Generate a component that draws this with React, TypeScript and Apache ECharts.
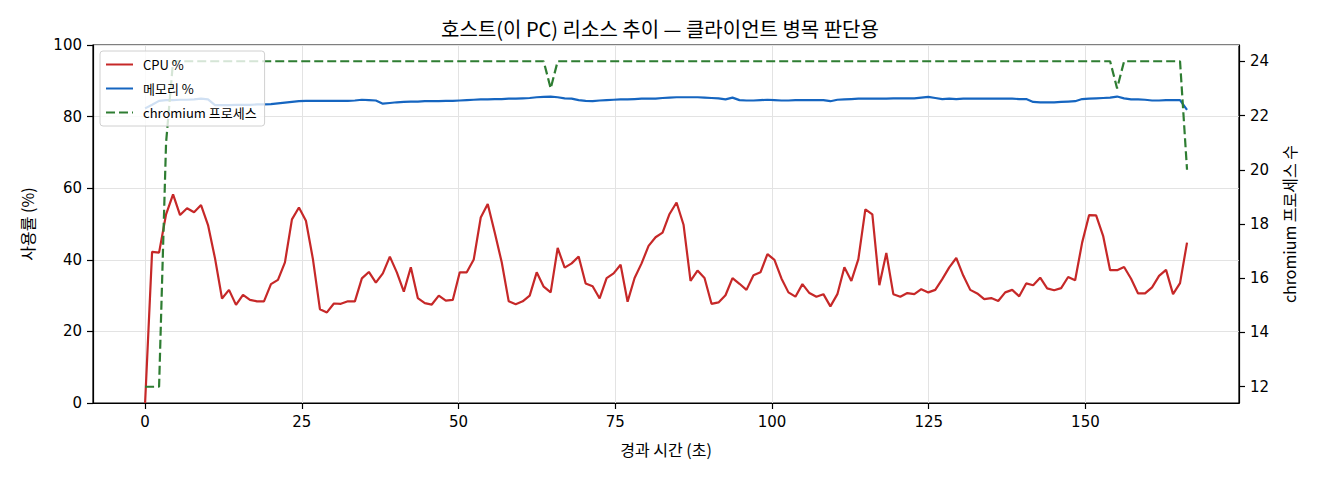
import React, { useEffect, useRef } from "react";
import * as echarts from "echarts";

// one sample every ~1.1155 s
const SAMPLE_SEC = 1.1155;

const CPU = [
  0, 42.2, 42.0, 52.7, 58.3, 52.5, 54.4, 53.3, 55.3, 49.7,
  40.4, 29.2, 31.6, 27.4, 30.2, 28.8, 28.4, 28.4, 33.2, 34.4,
  39.3, 51.3, 54.6, 50.9, 40.2, 26.2, 25.3, 27.8, 27.7, 28.4,
  28.4, 34.8, 36.6, 33.6, 36.2, 40.9, 36.5, 31.1, 37.9, 29.3,
  27.9, 27.5, 30.0, 28.6, 28.8, 36.5, 36.5, 40.1, 51.8, 55.6,
  47.6, 39.3, 28.4, 27.6, 28.4, 30.0, 36.5, 32.5, 30.9, 43.3,
  37.8, 39.0, 40.9, 33.4, 32.6, 29.2, 34.9, 36.2, 38.6, 28.3,
  34.9, 39.0, 43.9, 46.3, 47.6, 52.8, 56.0, 49.8, 34.1, 37.0,
  34.9, 27.7, 28.1, 30.1, 34.9, 33.3, 31.6, 35.7, 36.5, 41.6,
  40.0, 34.8, 30.9, 29.7, 33.2, 30.7, 29.7, 30.4, 27.0, 30.4,
  37.9, 34.1, 40.2, 54.1, 52.7, 32.9, 41.9, 30.4, 29.7, 30.7,
  30.4, 31.8, 30.9, 31.6, 34.6, 37.9, 40.5, 35.6, 31.6, 30.6,
  29.0, 29.3, 28.5, 30.9, 31.6, 29.8, 33.4, 32.9, 35.0, 32.0,
  31.5, 32.1, 35.2, 34.3, 44.8, 52.5, 52.4, 46.7, 37.1, 37.1,
  38.0, 34.7, 30.6, 30.6, 32.3, 35.5, 37.2, 30.4, 33.5, 44.8,
];

const MEMORY = [
  82.3, 83.3, 84.4, 84.6, 84.6, 84.7, 84.7, 84.8, 85.0, 84.8,
  83.2, 83.2, 83.2, 83.3, 83.3, 83.3, 83.4, 83.4, 83.5, 83.7,
  83.9, 84.1, 84.3, 84.4, 84.4, 84.4, 84.4, 84.4, 84.4, 84.4,
  84.5, 84.7, 84.6, 84.5, 83.6, 83.8, 84.0, 84.1, 84.2, 84.2,
  84.3, 84.3, 84.3, 84.4, 84.4, 84.5, 84.6, 84.7, 84.8, 84.8,
  84.9, 84.9, 85.0, 85.0, 85.1, 85.2, 85.4, 85.5, 85.6, 85.4,
  85.1, 85.0, 84.6, 84.4, 84.3, 84.5, 84.6, 84.7, 84.8, 84.8,
  84.9, 85.0, 85.0, 85.0, 85.2, 85.3, 85.4, 85.4, 85.4, 85.4,
  85.3, 85.2, 85.1, 84.8, 85.3, 84.6, 84.5, 84.5, 84.6, 84.7,
  84.6, 84.5, 84.5, 84.6, 84.6, 84.6, 84.6, 84.6, 84.3, 84.7,
  84.8, 84.9, 85.0, 85.0, 85.0, 85.0, 85.0, 85.1, 85.1, 85.1,
  85.1, 85.3, 85.5, 85.2, 84.9, 85.0, 84.9, 85.0, 85.0, 85.0,
  85.0, 85.0, 85.0, 85.0, 85.0, 84.9, 84.9, 84.1, 84.0, 84.0,
  84.0, 84.1, 84.2, 84.3, 84.9, 85.0, 85.1, 85.2, 85.3, 85.6,
  85.1, 84.8, 84.8, 84.7, 84.5, 84.5, 84.6, 84.6, 84.6, 81.9,
];

const CHROMIUM = [
  12, 12, 12, 21, 24, 24, 24, 24, 24, 24,
  24, 24, 24, 24, 24, 24, 24, 24, 24, 24,
  24, 24, 24, 24, 24, 24, 24, 24, 24, 24,
  24, 24, 24, 24, 24, 24, 24, 24, 24, 24,
  24, 24, 24, 24, 24, 24, 24, 24, 24, 24,
  24, 24, 24, 24, 24, 24, 24, 24, 23, 24,
  24, 24, 24, 24, 24, 24, 24, 24, 24, 24,
  24, 24, 24, 24, 24, 24, 24, 24, 24, 24,
  24, 24, 24, 24, 24, 24, 24, 24, 24, 24,
  24, 24, 24, 24, 24, 24, 24, 24, 24, 24,
  24, 24, 24, 24, 24, 24, 24, 24, 24, 24,
  24, 24, 24, 24, 24, 24, 24, 24, 24, 24,
  24, 24, 24, 24, 24, 24, 24, 24, 24, 24,
  24, 24, 24, 24, 24, 24, 24, 24, 24, 23,
  24, 24, 24, 24, 24, 24, 24, 24, 24, 20,
];

const X_TICKS = [0, 25, 50, 75, 100, 125, 150];
const RIGHT_TICKS = [12, 14, 16, 18, 20, 22, 24];

const KR = "'Noto Sans CJK KR', sans-serif";
const NUM = "'DejaVu Sans', 'Noto Sans CJK KR', sans-serif";

const elapsed = CPU.map((_, i) => +(i * SAMPLE_SEC).toFixed(3));
const pairs = (arr: number[]) => arr.map((v, i) => [elapsed[i], v]);

const App: React.FC = () => {
  const chartRef = useRef<HTMLDivElement>(null);

  useEffect(() => {
    const chart = echarts.init(chartRef.current!, undefined, { renderer: "svg" });

    const tick = { show: true, length: 6, inside: false, lineStyle: { color: "#000", width: 1.2 } };
    const axisLine = { show: true, onZero: false, lineStyle: { color: "#000", width: 1.2 } };

    chart.setOption({
      animation: false,
      backgroundColor: "#fff",
      title: {
        text: "호스트(이 PC) 리소스 추이 — 클라이언트 병목 판단용",
        left: "center",
        top: 13,
        padding: [5, 0, 5, 12],
        textStyle: { fontFamily: KR, fontSize: 20, fontWeight: "normal", color: "#000" },
      },
      legend: {
        orient: "vertical",
        left: 100,
        top: 51,
        padding: [7, 8, 7, 5],
        itemWidth: 27,
        itemHeight: 12,
        itemGap: 11,
        backgroundColor: "rgba(255,255,255,0.8)",
        borderColor: "#d0d0d0",
        borderWidth: 1,
        borderRadius: 3,
        itemStyle: { opacity: 0 },
        textStyle: { fontFamily: KR, fontSize: 13, color: "#000", padding: [0, 0, 0, 5] },
        data: ["CPU %", "메모리 %", "chromium 프로세스"],
      },
      grid: {
        left: 93,
        right: 81,
        top: 45,
        bottom: 77,
        show: true,
        borderColor: "#000",
        borderWidth: 1.2,
      },
      xAxis: {
        type: "value",
        min: -8.31,
        max: 174.5,
        name: "경과 시간 (초)",
        nameLocation: "middle",
        nameGap: 38,
        nameTextStyle: { fontFamily: KR, fontSize: 16, color: "#000" },
        axisLine,
        axisTick: { ...tick, customValues: X_TICKS },
        axisLabel: { customValues: X_TICKS, margin: 11, fontFamily: NUM, fontSize: 15, color: "#000" },
        splitLine: { show: true, lineStyle: { color: "#e3e3e3", width: 1 } },
      },
      yAxis: [
        {
          type: "value",
          min: 0,
          max: 100,
          interval: 20,
          name: "사용률 (%)",
          nameLocation: "middle",
          nameRotate: 90,
          nameGap: 58,
          nameTextStyle: { fontFamily: KR, fontSize: 16, color: "#000" },
          axisLine,
          axisTick: tick,
          axisLabel: { margin: 11, fontFamily: NUM, fontSize: 15, color: "#000" },
          splitLine: { show: true, lineStyle: { color: "#e3e3e3", width: 1 } },
        },
        {
          type: "value",
          position: "right",
          min: 11.4,
          max: 24.6,
          name: "chromium 프로세스 수",
          nameLocation: "middle",
          nameRotate: 90,
          nameGap: 42,
          nameTextStyle: { fontFamily: KR, fontSize: 16, color: "#000" },
          axisLine,
          axisTick: { ...tick, customValues: RIGHT_TICKS },
          axisLabel: { customValues: RIGHT_TICKS, margin: 11, fontFamily: NUM, fontSize: 15, color: "#000" },
          splitLine: { show: false },
        },
      ],
      series: [
        {
          name: "CPU %",
          type: "line",
          symbol: "none",
          data: pairs(CPU),
          lineStyle: { color: "#c62828", width: 2.2 },
          itemStyle: { color: "#c62828" },
          z: 3,
        },
        {
          name: "메모리 %",
          type: "line",
          symbol: "none",
          data: pairs(MEMORY),
          lineStyle: { color: "#1565c0", width: 2.2 },
          itemStyle: { color: "#1565c0" },
          z: 3,
        },
        {
          name: "chromium 프로세스",
          type: "line",
          yAxisIndex: 1,
          symbol: "none",
          data: pairs(CHROMIUM),
          lineStyle: { color: "#2e7d32", width: 2.2, type: [9, 4] },
          itemStyle: { color: "#2e7d32" },
          z: 3,
        },
      ],
    });

    return () => {
      chart.dispose();
    };
  }, []);

  return (
    <div
      ref={chartRef}
      style={{ position: "fixed", left: 0, top: 0, width: "1320px", height: "480px" }}
    ></div>
  );
};

export default App;
